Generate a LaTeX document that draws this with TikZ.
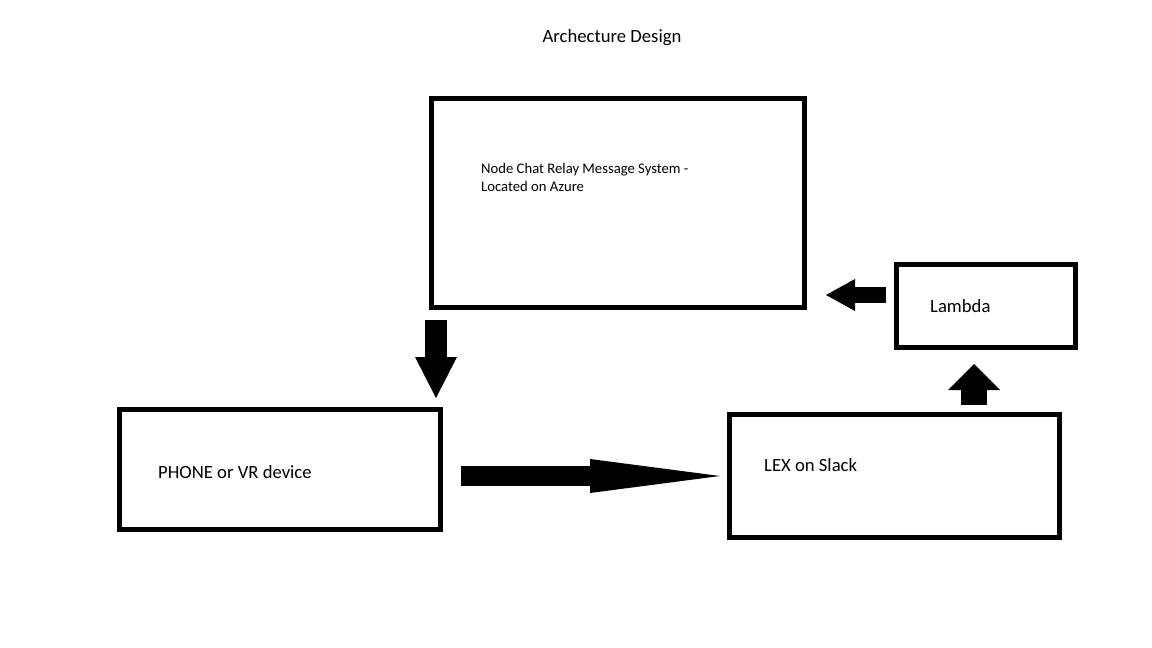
\documentclass[tikz,border=0pt]{standalone}
\usepackage{fontspec}
\setmainfont{Carlito}
\usetikzlibrary{arrows.meta, positioning}

\begin{document}
\begin{tikzpicture}[x=1pt, y=-1pt,
  box/.style = {draw, line width = 5pt, rectangle, inner sep = 0pt},
  txt/.style = {inner sep = 0pt, font = \fontsize{18.67pt}{22pt}\selectfont}]
\useasboundingbox (0,0) rectangle (1152,648);

\node[txt] (title) at (612,38) {Archecture Design};

\node[box, minimum width = 373pt, minimum height = 209pt] (relay) at (618,203) {};
\node[box, minimum width = 179pt, minimum height = 83pt] (lambda) at (986,306) {};
\node[box, minimum width = 321pt, minimum height = 120pt] (phone) at (280,469.5) {};
\node[box, minimum width = 330pt, minimum height = 123pt] (lex) at (894.5,476) {};

\node[inner sep = 0pt, anchor = north west, align = left, font = \fontsize{14.67pt}{18pt}\selectfont] (relaytxt) at ([xshift = 52pt, yshift = -67pt]relay.north west) {Node Chat Relay Message System -\\Located on Azure};
\node[txt, anchor = west] (lambdatxt) at ([xshift = 36pt]lambda.west) {Lambda};
\node[txt, anchor = west] (phonetxt) at ([xshift = 41pt, yshift = -2.5pt]phone.west) {PHONE or VR device};
\node[txt, anchor = west] (lextxt) at ([xshift = 37pt, yshift = 11pt]lex.west) {LEX on Slack};

% block arrows
\draw[line width = 22pt, shorten <= 10pt, shorten >= 9pt, -{Triangle[length = 41pt, width = 42pt, line width = 0pt]}] ([xshift = 7pt]relay.south west) -- ([xshift = 7pt]relay.south west |- phone.north);
\draw[line width = 20pt, shorten <= 18pt, shorten >= 7pt, -{Triangle[length = 130pt, width = 34pt, line width = 0pt]}] (phone.east |- lex.west) -- (lex.west);
\draw[line width = 16pt, shorten <= 8pt, shorten >= 19pt, -{Triangle[length = 29pt, width = 32pt, line width = 0pt]}] ([yshift = 11pt]lambda.west) -- ([yshift = 11pt]lambda.west -| relay.east);
\draw[line width = 26pt, shorten <= 7pt, shorten >= 14pt, -{Triangle[length = 26pt, width = 52pt, line width = 0pt]}] ([xshift = -12pt]lambda.south |- lex.north) -- ([xshift = -12pt]lambda.south);
\end{tikzpicture}
\end{document}
